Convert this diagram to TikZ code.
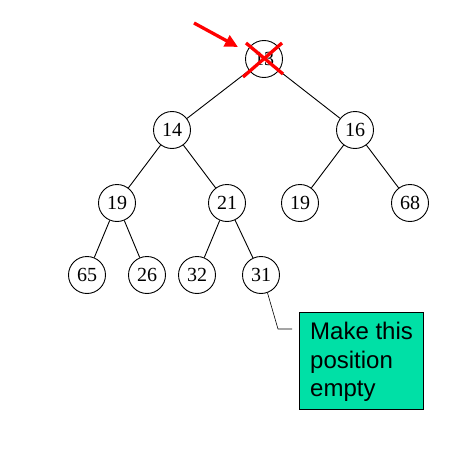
\documentclass[tikz,border=0pt]{standalone}
\usepackage{fontspec}
\setmainfont{Liberation Serif}
\setsansfont{Liberation Sans}
\usetikzlibrary{arrows.meta}
\definecolor{mint}{RGB}{0,224,166}
\begin{document}
\begin{tikzpicture}[x=1pt,y=-1pt,
  hnode/.style={draw, circle, line width=0.9pt, minimum size=37pt, inner sep=0pt, font=\fontsize{20}{20}\selectfont},
  edge/.style={line width=0.9pt},
  redline/.style={draw=red, line width=3.3pt}]
\useasboundingbox (0,0) rectangle (472,455);
\node[hnode] (r) at (264,59) {13};
\node[hnode] (a) at (172,130) {14};
\node[hnode] (b) at (355,130) {16};
\node[hnode] (c) at (117,203) {19};
\node[hnode] (d) at (227,203) {21};
\node[hnode] (e) at (300,203) {19};
\node[hnode] (f) at (410,203) {68};
\node[hnode] (g) at (87,275) {65};
\node[hnode] (h) at (147,275) {26};
\node[hnode] (i) at (197,275) {32};
\node[hnode] (j) at (261,275) {31};
\draw[edge] (r) -- (a);
\draw[edge] (r) -- (b);
\draw[edge] (a) -- (c);
\draw[edge] (a) -- (d);
\draw[edge] (b) -- (e);
\draw[edge] (b) -- (f);
\draw[edge] (c) -- (g);
\draw[edge] (c) -- (h);
\draw[edge] (d) -- (i);
\draw[edge] (d) -- (j);
% red cross
\coordinate (x1) at (246,43);
\coordinate (x2) at (283,74);
\coordinate (x3) at (282,43);
\coordinate (x4) at (243,77);
\draw[redline] (x1) -- (x2);
\draw[redline] (x3) -- (x4);
% red arrow
\coordinate (at) at (194,23);
\coordinate (ah) at (238,47);
\draw[redline, -{Triangle[length=13pt,width=12pt]}] (at) -- (ah);
% callout
\node[draw, line width=0.6pt, fill=mint, anchor=north west, minimum width=124pt, minimum height=97pt, inner sep=0pt] (box) at (299,312) {};
\node[anchor=north west, inner sep=0pt, align=left,
  font=\sffamily\fontsize{24}{28.5}\selectfont] (boxtext) at (310,322) {Make this\\position\\empty};
\coordinate (k1) at (278,329);
\coordinate (k2) at (292,329);
\draw[line width=0.6pt] (j.290) -- (k1) -- (k2);
\end{tikzpicture}
\end{document}
